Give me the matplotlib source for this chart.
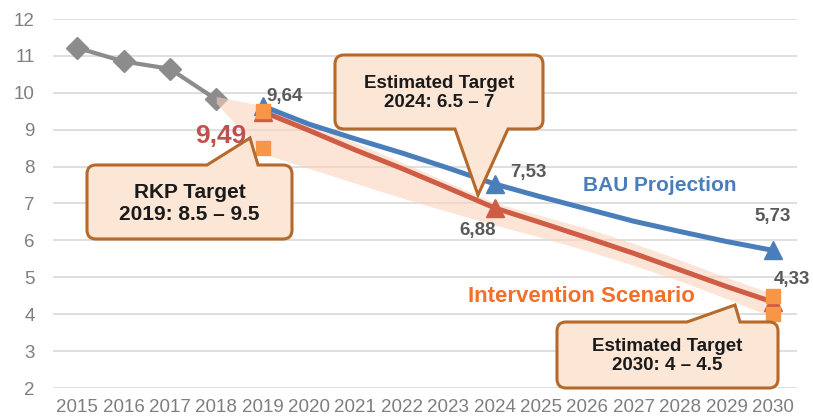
import matplotlib
matplotlib.use('Agg')
from matplotlib import pyplot as plt
from matplotlib.path import Path
from matplotlib.patches import PathPatch

plt.rcParams['font.family'] = ['Liberation Sans', 'DejaVu Sans']

W, H = 813, 419

# data
hist_years = [2015, 2016, 2017, 2018]
hist_vals = [11.22, 10.85, 10.65, 9.82]

proj_years = list(range(2019, 2031))
bau_vals = [9.64, 9.15, 8.75, 8.37, 7.96, 7.53, 7.18, 6.85, 6.52, 6.24, 5.97, 5.73]
int_vals = [9.49, 8.98, 8.45, 7.95, 7.42, 6.88, 6.48, 6.07, 5.65, 5.20, 4.75, 4.33]
key_years = [2019, 2024, 2030]

band_years = list(range(2018, 2031))
band_low = [9.72, 8.35, 7.95, 7.55, 7.15, 6.78, 6.42, 6.08, 5.72, 5.32, 4.90, 4.42, 3.92]
band_high = [9.90, 9.65, 9.15, 8.65, 8.12, 7.57, 7.02, 6.67, 6.32, 5.92, 5.47, 5.00, 4.55]

target_years = [2019, 2019, 2030, 2030]
target_vals = [9.5, 8.5, 4.5, 4.0]

year_labels = [str(y) for y in range(2015, 2031)]

BLUE = '#4A7EBB'
RED = '#CF5C45'
GRAY = '#8C8C8C'
ORANGE = '#F79646'
BOX_FC = '#FCE6D6'
BOX_EC = '#B5692B'

fig = plt.figure(figsize=(W / 100, H / 100), dpi=100)
ax = fig.add_axes([53 / W, 31 / H, 744 / W, 369 / H])

ax.set_xlim(2014.48, 2030.52)
ax.set_ylim(2, 12)
ax.set_yticks(range(2, 13))
ax.set_xticks(range(2015, 2031))
ax.set_xticklabels(year_labels)
ax.grid(axis='y', color='#D9D9D9', lw=1.2)
ax.set_axisbelow(True)
for s in ax.spines.values():
    s.set_visible(False)
ax.tick_params(axis='both', length=0, labelsize=13.5, colors='#7F7F7F')
ax.tick_params(axis='y', pad=13)
ax.tick_params(axis='x', pad=8)

ax.plot(hist_years, hist_vals, color=GRAY, lw=3, marker='D', ms=11, zorder=2)
ax.fill_between(band_years, band_low, band_high, color='#FAD2BB', alpha=0.6,
                lw=0, zorder=3)
ax.plot(proj_years, bau_vals, color=BLUE, lw=3.6, zorder=4, solid_capstyle='round')
ax.plot(proj_years, int_vals, color=RED, lw=3.6, zorder=4, solid_capstyle='round')
ax.plot(key_years, [bau_vals[proj_years.index(y)] for y in key_years],
        ls='none', marker='^', ms=13, color=BLUE, zorder=5)
ax.plot(key_years, [int_vals[proj_years.index(y)] for y in key_years],
        ls='none', marker='^', ms=13, color=RED, zorder=5)
ax.plot(target_years, target_vals, ls='none', marker='s', ms=10, color=ORANGE, zorder=6)


def px(x, y):
    return x / W, 1 - y / H


def callout(x0, y0, x1, y1, side, b0, tip, b1, text, size, r=9):
    pts = [(x0 + r, y0)]
    codes = [Path.MOVETO]
    if side == 'top':
        pts += [(b0, y0), tip, (b1, y0)]
        codes += [Path.LINETO] * 3
    pts += [(x1 - r, y0), (x1, y0), (x1, y0 + r), (x1, y1 - r), (x1, y1), (x1 - r, y1)]
    codes += [Path.LINETO, Path.CURVE3, Path.CURVE3, Path.LINETO, Path.CURVE3, Path.CURVE3]
    if side == 'bottom':
        pts += [(b1, y1), tip, (b0, y1)]
        codes += [Path.LINETO] * 3
    pts += [(x0 + r, y1), (x0, y1), (x0, y1 - r), (x0, y0 + r), (x0, y0), (x0 + r, y0), (x0 + r, y0)]
    codes += [Path.LINETO, Path.CURVE3, Path.CURVE3, Path.LINETO, Path.CURVE3, Path.CURVE3,
              Path.CLOSEPOLY]
    path = Path([px(*p) for p in pts], codes)
    fig.add_artist(PathPatch(path, fc=BOX_FC, ec=BOX_EC, lw=2.2,
                             transform=fig.transFigure, zorder=7))
    cx, cy = px((x0 + x1) / 2, (y0 + y1) / 2 + 1)
    fig.text(cx, cy, text, ha='center', va='center', fontsize=size,
             fontweight='bold', color='#1A1A1A', linespacing=1.2, zorder=8)


callout(87, 165, 292, 239, 'top', 207, (250, 138), 258, 'RKP Target\n2019: 8.5 – 9.5', 15)
callout(335, 55, 543, 129, 'bottom', 455, (478, 195), 508,
        'Estimated Target\n2024: 6.5 – 7', 13.5)
callout(557, 322, 778, 388, 'top', 687, (735, 305), 740,
        'Estimated Target\n2030: 4 – 4.5', 13.5)

lab = dict(fontweight='bold', color='#595959', fontsize=13.5, va='center', zorder=8)
ax.text(2019.09, 9.89, '9,64', ha='left', **lab)
ax.text(2024.72, 7.85, '7,53', ha='center', **lab)
ax.text(2023.64, 6.28, '6,88', ha='center', **lab)
ax.text(2030.0, 6.66, '5,73', ha='center', **lab)
ax.text(2030.41, 4.93, '4,33', ha='center', clip_on=False, **lab)
ax.text(2018.1, 8.82, '9,49', ha='center', va='center', fontsize=19,
        fontweight='bold', color='#C0504D', zorder=8)
ax.text(2027.56, 7.5, 'BAU Projection', ha='center', va='center', fontsize=15,
        fontweight='bold', color=BLUE, zorder=8)
ax.text(2025.88, 4.49, 'Intervention Scenario', ha='center', va='center', fontsize=16,
        fontweight='bold', color='#F2702A', zorder=8)

fig.savefig('out.png', dpi=100)
